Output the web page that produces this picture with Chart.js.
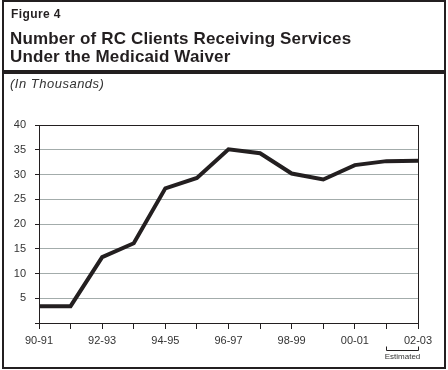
<!DOCTYPE html>
<html>
<head>
<meta charset="utf-8">
<script src="https://cdn.jsdelivr.net/npm/chart.js@4"></script>
<style>
  html, body { margin: 0; padding: 0; background: #fff; }
  body { width: 448px; height: 370px; position: relative; overflow: hidden;
         font-family: Arial, "Liberation Sans", Helvetica, sans-serif; color: #231f20; }
  #frame { position: absolute; left: 2px; top: 0; width: 444px; height: 369px;
           box-sizing: border-box; border: 2px solid #231f20; pointer-events: none; }
  #rule { position: absolute; left: 2px; top: 70px; width: 444px; height: 4px; background: #231f20; }
  .txt { position: absolute; left: 10px; line-height: 1; white-space: nowrap; }
  #fig { top: 8px; left: 11px; font-size: 12px; font-weight: bold; letter-spacing: 0.4px; }
  #t1 { top: 30px; font-size: 17px; font-weight: bold; letter-spacing: 0.15px; }
  #t2 { top: 48px; font-size: 17px; font-weight: bold; letter-spacing: 0.15px; }
  #unit { top: 77px; font-size: 13px; font-style: italic; letter-spacing: 0.5px; color: #333; }
  canvas { position: absolute; left: 0; top: 0; }
</style>
</head>
<body>
<canvas id="chart" width="448" height="370"></canvas>
<div id="frame"></div>
<div id="rule"></div>
<div class="txt" id="fig">Figure 4</div>
<div class="txt" id="t1">Number of RC Clients Receiving Services</div>
<div class="txt" id="t2">Under the Medicaid Waiver</div>
<div class="txt" id="unit">(In Thousands)</div>
<script>
// 연도 (회계연도)
const years = ['90-91', '91-92', '92-93', '93-94', '94-95', '95-96', '96-97',
               '97-98', '98-99', '99-00', '00-01', '01-02', '02-03'];
// 수혜자 수 (천 명)
const clients = [3.4, 3.4, 13.3, 16.1, 27.2, 29.3, 35.1, 34.3, 30.2, 29.0, 31.9, 32.7, 32.8];
// 추정치 구간
const estimated = { from: '01-02', to: '02-03', label: 'Estimated' };

const INK = '#231f20';
const GRID = '#a3acab';
const FONT = 'Arial, "Liberation Sans", Helvetica, sans-serif';

// 차트 영역 테두리 + "Estimated" 괄호
const framePlugin = {
  id: 'framePlugin',
  afterDraw(chart) {
    const { ctx, chartArea: a, scales } = chart;
    ctx.save();
    ctx.strokeStyle = INK;
    ctx.lineWidth = 1;
    ctx.beginPath();
    ctx.moveTo(Math.round(a.right) + 0.5, a.top);
    ctx.lineTo(Math.round(a.right) + 0.5, a.bottom);
    ctx.stroke();

    const x1 = Math.round(scales.x.getPixelForValue(years.indexOf(estimated.from))) + 0.5;
    const x2 = Math.round(scales.x.getPixelForValue(years.indexOf(estimated.to))) + 0.5;
    const y = 350.5;
    ctx.beginPath();
    ctx.moveTo(x1, y - 4);
    ctx.lineTo(x1, y);
    ctx.lineTo(x2, y);
    ctx.lineTo(x2, y - 4);
    ctx.stroke();
    ctx.fillStyle = '#333';
    ctx.font = '8px ' + FONT;
    ctx.textAlign = 'center';
    ctx.textBaseline = 'top';
    ctx.fillText(estimated.label, (x1 + x2) / 2, 353);
    ctx.restore();
  }
};

new Chart(document.getElementById('chart'), {
  type: 'line',
  data: {
    labels: years,
    datasets: [{
      data: clients,
      borderColor: INK,
      borderWidth: 4,
      pointRadius: 0,
      tension: 0,
      fill: false,
    }]
  },
  options: {
    responsive: false,
    animation: false,
    layout: { padding: { top: 125, right: 30, left: 0, bottom: 0 } },
    plugins: { legend: { display: false }, tooltip: { enabled: false } },
    scales: {
      x: {
        offset: false,
        afterFit: (s) => { s.height = 47; },
        border: { display: true, color: INK, width: 1 },
        grid: { drawOnChartArea: false, drawTicks: true, tickLength: 6, color: INK, tickColor: INK },
        ticks: {
          autoSkip: false,
          maxRotation: 0,
          padding: 5,
          color: '#333',
          font: { family: FONT, size: 11 },
          callback: (v, i) => (i % 2 === 0 ? years[i] : ''),
        }
      },
      y: {
        min: 0,
        max: 40,
        afterFit: (s) => { s.width = 39; },
        border: { display: true, color: INK, width: 1 },
        grid: {
          color: (c) => (c.tick && (c.tick.value === 40 || c.tick.value === 0) ? INK : GRID),
          tickColor: INK,
          tickLength: 4,
          drawTicks: true,
        },
        ticks: {
          stepSize: 5,
          padding: 9,
          color: '#333',
          font: { family: FONT, size: 11 },
          callback: (v) => (v === 0 ? '' : v),
        }
      }
    }
  },
  plugins: [framePlugin]
});
</script>
</body>
</html>
